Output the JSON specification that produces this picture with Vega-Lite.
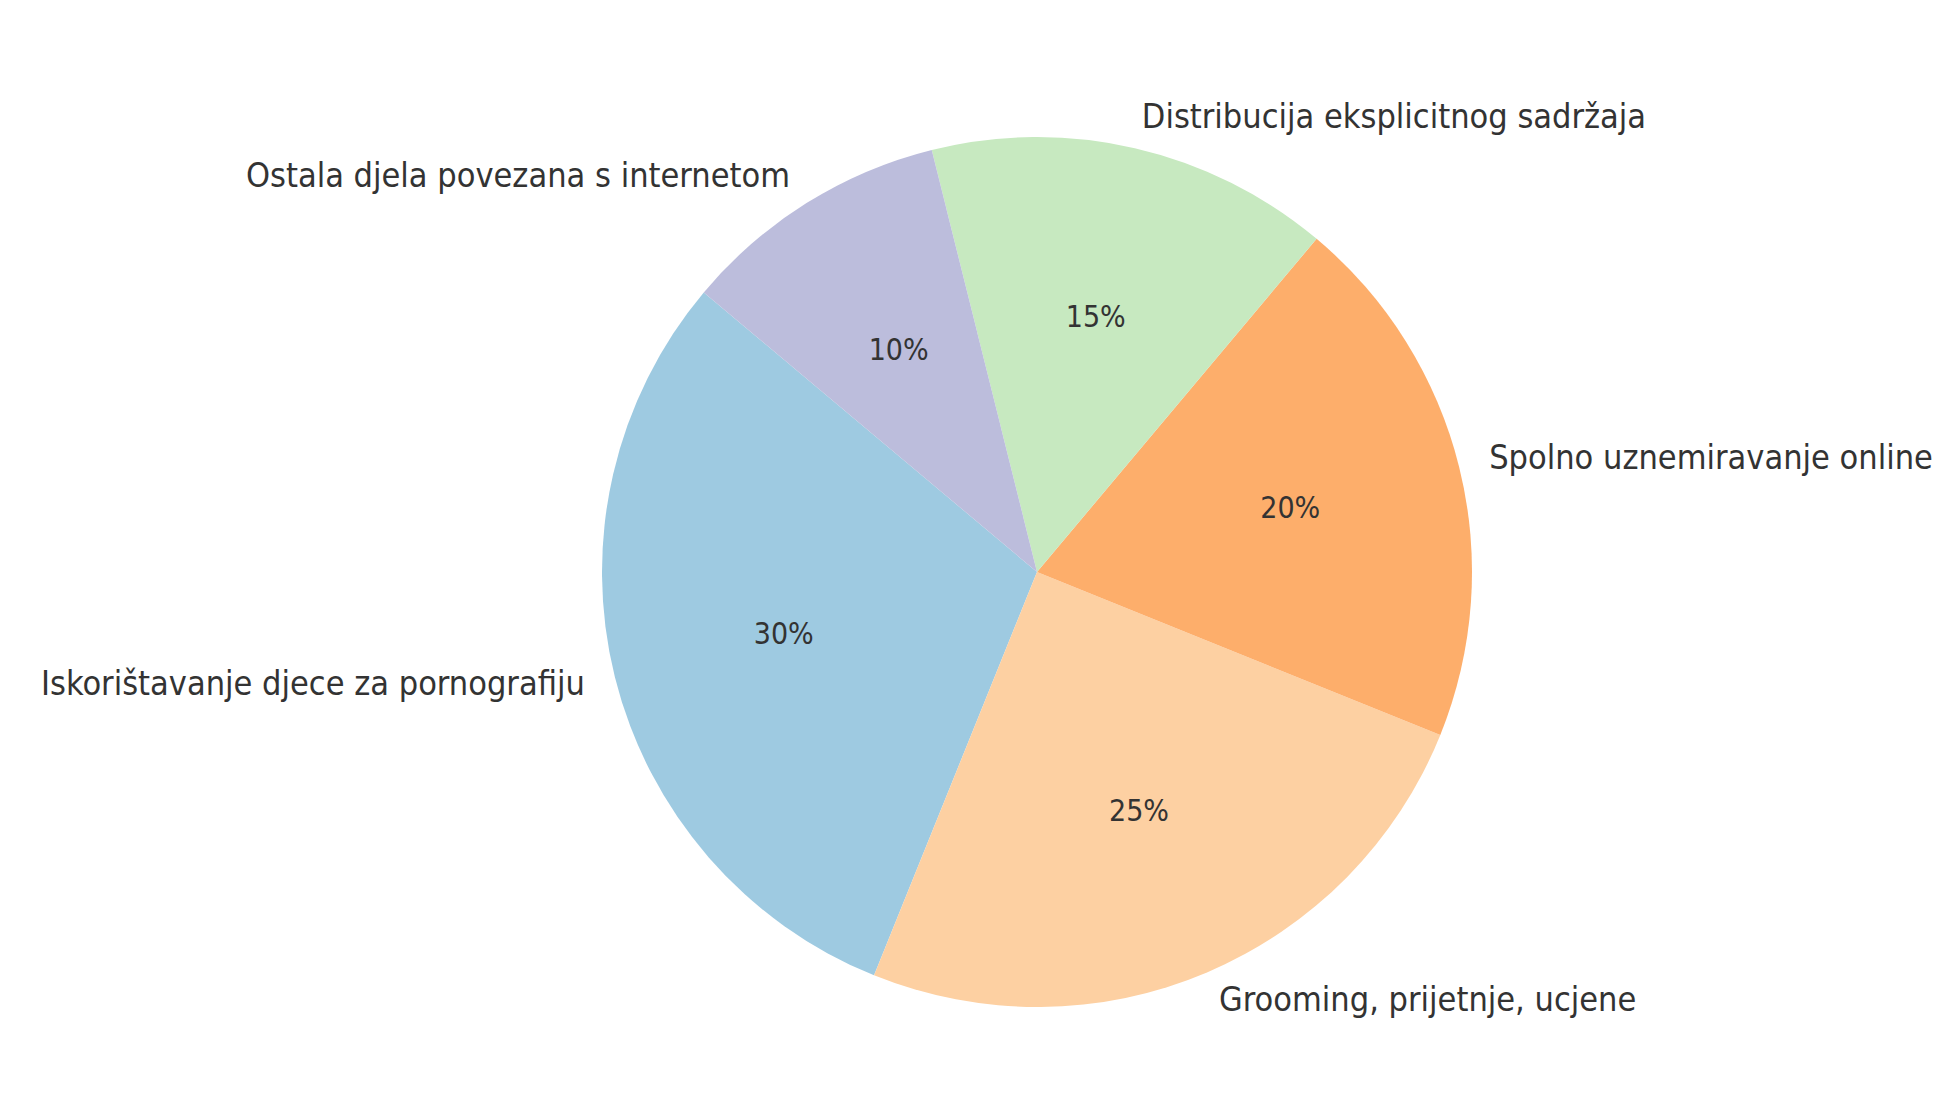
{
  "$schema": "https://vega.github.io/schema/vega-lite/v6.json",
  "width": 1842,
  "height": 1056,
  "autosize": {"type": "none"},
  "padding": {"left": 116, "right": 0, "top": 44, "bottom": 0},
  "background": "white",
  "config": {"view": {"stroke": null}},
  "data": {
    "values": [
      {"category": "Iskorištavanje djece za pornografiju", "share": 0.30},
      {"category": "Grooming, prijetnje, ucjene", "share": 0.25},
      {"category": "Spolno uznemiravanje online", "share": 0.20},
      {"category": "Distribucija eksplicitnog sadržaja", "share": 0.15},
      {"category": "Ostala djela povezana s internetom", "share": 0.10}
    ]
  },
  "encoding": {
    "theta": {"field": "share", "type": "quantitative", "stack": true, "scale": {"range": [5.4105, 11.6937]}},
    "order": {"field": "share", "type": "quantitative", "sort": "ascending"}
  },
  "layer": [
    {
      "mark": {"type": "arc", "outerRadius": 435},
      "encoding": {
        "color": {
          "field": "category",
          "type": "nominal",
          "legend": null,
          "scale": {
            "domain": ["Iskorištavanje djece za pornografiju", "Grooming, prijetnje, ucjene", "Spolno uznemiravanje online", "Distribucija eksplicitnog sadržaja", "Ostala djela povezana s internetom"],
            "range": ["#9ecae1", "#fdd0a2", "#fdae6b", "#c7e9c0", "#bcbddc"]
          }
        }
      }
    },
    {
      "mark": {"type": "text", "radius": 261, "font": "DejaVu Sans Condensed", "fontSize": 30, "color": "#333333", "baseline": "middle", "align": "center"},
      "encoding": {"text": {"field": "share", "type": "quantitative", "format": ".0%"}}
    },
    {
      "mark": {"type": "text", "radius": 466, "font": "DejaVu Sans Condensed", "fontSize": 34, "color": "#333333", "baseline": "middle", "align": "left"},
      "encoding": {"text": {"condition": {"test": "indexof(['Grooming, prijetnje, ucjene', 'Spolno uznemiravanje online', 'Distribucija eksplicitnog sadržaja'], datum.category) >= 0", "field": "category", "type": "nominal"}, "value": ""}}
    },
    {
      "mark": {"type": "text", "radius": 466, "font": "DejaVu Sans Condensed", "fontSize": 34, "color": "#333333", "baseline": "middle", "align": "right"},
      "encoding": {"text": {"condition": {"test": "indexof(['Iskorištavanje djece za pornografiju', 'Ostala djela povezana s internetom'], datum.category) >= 0", "field": "category", "type": "nominal"}, "value": ""}}
    }
  ]
}
